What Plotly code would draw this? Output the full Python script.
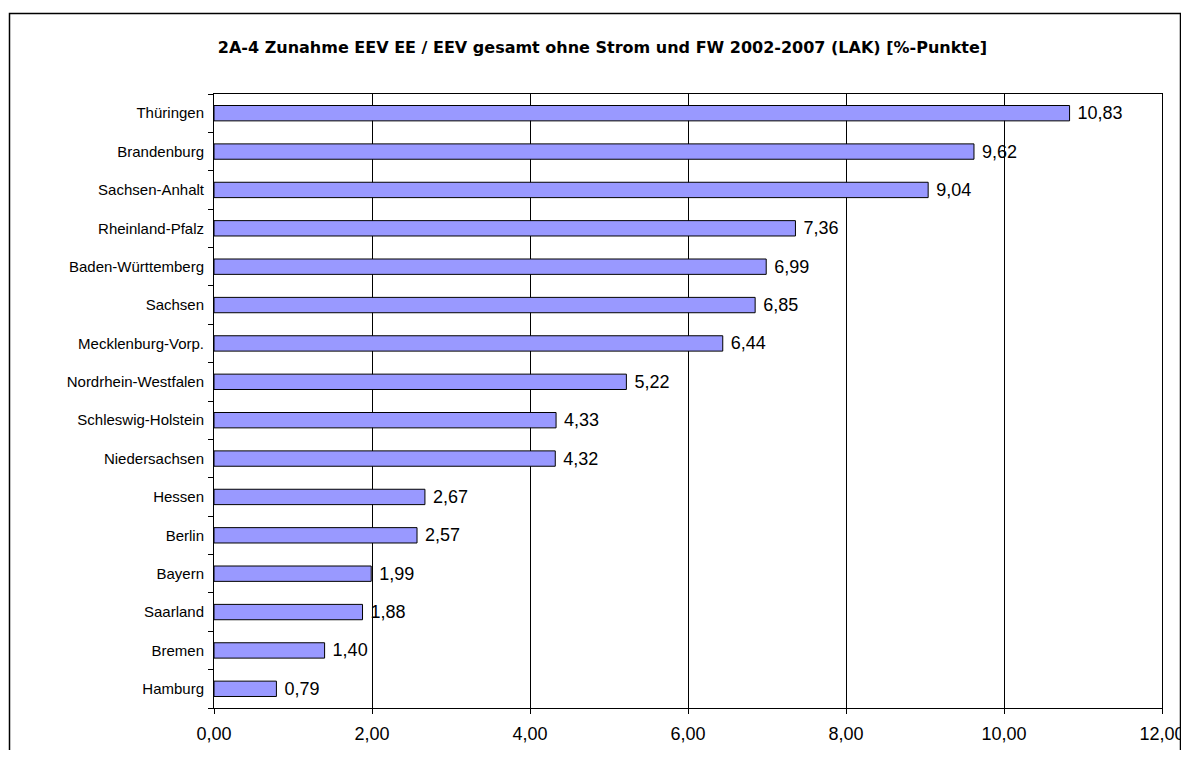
import plotly.graph_objects as go

states = ["Thüringen", "Brandenburg", "Sachsen-Anhalt", "Rheinland-Pfalz", "Baden-Württemberg",
          "Sachsen", "Mecklenburg-Vorp.", "Nordrhein-Westfalen", "Schleswig-Holstein",
          "Niedersachsen", "Hessen", "Berlin", "Bayern", "Saarland", "Bremen", "Hamburg"]
values = [10.83, 9.62, 9.04, 7.36, 6.99, 6.85, 6.44, 5.22, 4.33, 4.32, 2.67, 2.57, 1.99, 1.88, 1.40, 0.79]
x_ticks = [0, 2, 4, 6, 8, 10, 12]
title = "2A-4 Zunahme EEV EE / EEV gesamt ohne Strom und FW 2002-2007 (LAK) [%-Punkte]"

W, H = 1181, 742
L, R, T, B = 206, 27, 86, 42

fig = go.Figure(go.Bar(
    x=values, y=states, orientation="h",
    marker=dict(color="#9999FF", line=dict(color="black", width=1)),
    width=0.4,
    text=values, texttemplate=" %{x:.2f}", textposition="outside",
    constraintext="none",
    textfont=dict(family="Liberation Sans, Arial", size=18, color="black"),
    cliponaxis=False,
))

pw, ph = W - L - R, H - T - B
fig.add_shape(type="rect", xref="paper", yref="paper",
              x0=(1.5 - L) / pw, x1=(1172.5 - L) / pw,
              y0=-(H + 20 - T - ph) / ph, y1=1 + (T - 5.5) / ph,
              line=dict(color="black", width=1.5), fillcolor="rgba(0,0,0,0)")

fig.update_layout(
    width=W, height=H,
    margin=dict(l=L, r=R, t=T, b=B, autoexpand=False),
    paper_bgcolor="white", plot_bgcolor="white",
    separators=",.",
    showlegend=False,
    title=dict(text="<b>" + title + "</b>", x=(602.5 - 8) / W, xref="container", xanchor="center",
               y=1 - 39 / H, yref="container", yanchor="middle", automargin=False,
               font=dict(family="DejaVu Sans", size=16, color="black")),
    font=dict(family="Liberation Sans, Arial", size=15, color="black"),
)
fig.update_xaxes(range=[0, 12], tickvals=x_ticks, tickformat=".2f", automargin=False,
                 tickfont=dict(size=18),
                 showgrid=True, gridcolor="black", gridwidth=1,
                 showline=True, linecolor="black", linewidth=1, mirror=True,
                 ticks="outside", ticklen=5, tickcolor="black", zeroline=False,
                 ticklabelstandoff=4, fixedrange=True)
fig.update_yaxes(categoryorder="array", categoryarray=states[::-1], automargin=False,
                 showgrid=False, showline=True, linecolor="black", linewidth=1, mirror=True,
                 ticks="outside", ticklen=5, tickcolor="black", tickson="boundaries",
                 ticklabelstandoff=6)

fig.write_html("out.html")
